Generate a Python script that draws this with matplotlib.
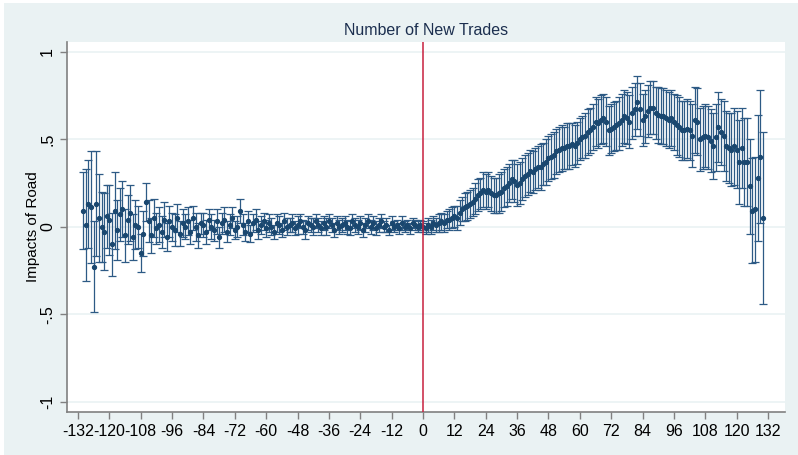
import matplotlib.pyplot as plt
import numpy as np
from matplotlib.patches import Rectangle

# months relative to road opening
months = np.arange(-130, 131)

# point estimates (10 per row, from -130)
coef = [
    0.09, 0.01, 0.13, 0.11, -0.23, 0.13, 0.05, 0.00, -0.03, 0.06,
    0.04, -0.10, 0.09, -0.02, 0.07, 0.10, -0.05, 0.04, 0.08, -0.06,
    0.01, 0.00, -0.15, -0.04, 0.14, 0.03, -0.05, 0.05, -0.01, 0.01,
    -0.03, 0.04, -0.06, 0.03, 0.00, -0.02, 0.05, -0.04, 0.02, 0.00,
    0.03, -0.03, 0.05, 0.00, -0.05, 0.02, 0.01, -0.03, 0.04, 0.00,
    -0.02, 0.03, -0.06, 0.02, 0.04, -0.03, 0.01, 0.05, -0.02, 0.00,
    0.09, 0.01, -0.03, 0.03, -0.04, 0.02, 0.04, -0.02, 0.01, 0.03,
    -0.01, 0.02, 0.00, -0.03, 0.02, 0.01, -0.02, 0.03, 0.00, 0.01,
    0.02, -0.01, 0.01, 0.03, 0.00, -0.02, 0.02, 0.01, 0.00, 0.03,
    0.01, -0.01, 0.02, 0.00, 0.03, 0.01, -0.02, 0.02, 0.00, 0.01,
    0.02, 0.00, -0.01, 0.03, 0.01, 0.00, 0.02, -0.02, 0.01, 0.03,
    0.00, 0.02, -0.01, 0.01, 0.03, 0.00, 0.01, -0.02, 0.02, 0.00,
    0.01, -0.01, 0.02, 0.00, 0.01, -0.01, 0.02, 0.01, 0.00, 0.01,
    0.00, -0.01, 0.01, 0.00, 0.02, 0.01, 0.02, 0.03, 0.02, 0.04,
    0.04, 0.05, 0.06, 0.05, 0.08, 0.10, 0.11, 0.12, 0.13, 0.14,
    0.16, 0.18, 0.19, 0.21, 0.20, 0.21, 0.19, 0.18, 0.18, 0.19,
    0.20, 0.22, 0.23, 0.25, 0.27, 0.26, 0.24, 0.25, 0.27, 0.29,
    0.30, 0.32, 0.31, 0.33, 0.34, 0.34, 0.36, 0.37, 0.39, 0.40,
    0.41, 0.43, 0.44, 0.45, 0.45, 0.46, 0.46, 0.47, 0.46, 0.48,
    0.50, 0.51, 0.52, 0.54, 0.55, 0.57, 0.60, 0.59, 0.61, 0.62,
    0.60, 0.55, 0.56, 0.57, 0.58, 0.59, 0.61, 0.63, 0.62, 0.60,
    0.65, 0.67, 0.71, 0.67, 0.61, 0.63, 0.66, 0.68, 0.68, 0.65,
    0.64, 0.63, 0.63, 0.62, 0.61, 0.62, 0.60, 0.58, 0.57, 0.55,
    0.55, 0.56, 0.55, 0.52, 0.61, 0.60, 0.50, 0.51, 0.52, 0.51,
    0.49, 0.46, 0.51, 0.57, 0.54, 0.52, 0.46, 0.45, 0.44, 0.46,
    0.44, 0.37, 0.45, 0.37, 0.37, 0.23, 0.09, 0.10, 0.28, 0.40,
    0.05,
]

# half width of the 95% interval
half = [
    0.22, 0.32, 0.25, 0.32, 0.26, 0.30, 0.25, 0.20, 0.22, 0.18,
    0.20, 0.18, 0.22, 0.17, 0.15, 0.16, 0.15, 0.14, 0.16, 0.13,
    0.14, 0.12, 0.11, 0.13, 0.11, 0.12, 0.10, 0.11, 0.09, 0.10,
    0.09, 0.10, 0.08, 0.09, 0.08, 0.09, 0.08, 0.07, 0.08, 0.07,
    0.08, 0.07, 0.07, 0.08, 0.07, 0.06, 0.07, 0.07, 0.06, 0.07,
    0.06, 0.07, 0.06, 0.06, 0.07, 0.06, 0.06, 0.06, 0.05, 0.06,
    0.07, 0.06, 0.05, 0.06, 0.05, 0.05, 0.06, 0.05, 0.05, 0.05,
    0.05, 0.05, 0.05, 0.04, 0.05, 0.05, 0.04, 0.05, 0.05, 0.04,
    0.05, 0.04, 0.05, 0.04, 0.04, 0.05, 0.04, 0.04, 0.05, 0.04,
    0.04, 0.04, 0.04, 0.05, 0.04, 0.04, 0.04, 0.04, 0.04, 0.04,
    0.04, 0.04, 0.04, 0.04, 0.04, 0.04, 0.04, 0.04, 0.04, 0.04,
    0.04, 0.04, 0.04, 0.04, 0.04, 0.03, 0.04, 0.03, 0.04, 0.03,
    0.03, 0.03, 0.04, 0.03, 0.03, 0.03, 0.03, 0.03, 0.03, 0.03,
    0.03, 0.03, 0.04, 0.04, 0.04, 0.04, 0.05, 0.05, 0.05, 0.05,
    0.06, 0.06, 0.06, 0.07, 0.07, 0.07, 0.08, 0.08, 0.08, 0.08,
    0.09, 0.09, 0.09, 0.10, 0.10, 0.10, 0.10, 0.10, 0.10, 0.11,
    0.11, 0.11, 0.11, 0.11, 0.11, 0.12, 0.12, 0.12, 0.12, 0.12,
    0.12, 0.12, 0.12, 0.12, 0.12, 0.13, 0.12, 0.13, 0.13, 0.13,
    0.13, 0.13, 0.13, 0.13, 0.12, 0.13, 0.13, 0.12, 0.12, 0.12,
    0.12, 0.12, 0.13, 0.13, 0.13, 0.13, 0.14, 0.14, 0.14, 0.14,
    0.14, 0.14, 0.14, 0.14, 0.14, 0.15, 0.15, 0.15, 0.15, 0.15,
    0.15, 0.15, 0.15, 0.15, 0.15, 0.15, 0.15, 0.15, 0.15, 0.15,
    0.16, 0.16, 0.16, 0.16, 0.16, 0.16, 0.16, 0.17, 0.17, 0.17,
    0.17, 0.17, 0.17, 0.18, 0.19, 0.19, 0.18, 0.18, 0.18, 0.18,
    0.18, 0.19, 0.19, 0.20, 0.19, 0.20, 0.20, 0.20, 0.21, 0.22,
    0.22, 0.24, 0.23, 0.25, 0.25, 0.27, 0.30, 0.30, 0.36, 0.38,
    0.49,
]

xticks = np.arange(-132, 133, 12)
yticks = [-1, -0.5, 0, 0.5, 1]
ytick_labels = ['-1', '-.5', '0', '.5', '1']

plt.rcParams['font.family'] = ['Liberation Sans Narrow', 'Liberation Sans', 'DejaVu Sans']

bg = '#eaf2f3'
navy = '#1a476f'

fig = plt.figure(figsize=(7.98, 4.55), dpi=100, facecolor='white')
fig.patches.append(Rectangle((4 / 798, 0), 1, 1 - 3 / 455, transform=fig.transFigure,
                             facecolor=bg, edgecolor='none', zorder=-5))
ax = fig.add_axes([67 / 798, 1 - 412 / 455, (785 - 67) / 798, (412 - 42) / 455])
ax.set_facecolor('white')

ax.errorbar(months, coef, yerr=half, fmt='o', markersize=2.8, color='#2d5a85',
            markerfacecolor=navy, markeredgecolor=navy, elinewidth=0.9,
            capsize=2.6, capthick=0.9, zorder=3)
ax.axvline(0, color='#c8203f', lw=1.1, zorder=4)

ax.set_xlim(-136.2, 138.5)
ax.set_ylim(-1.059, 1.055)
ax.set_xticks(xticks)
ax.set_xticklabels([str(t) for t in xticks], fontsize=11.5)
ax.set_yticks(yticks)
ax.set_yticklabels(ytick_labels, fontsize=11.5, rotation=90, va='center')

ax.yaxis.grid(True, color=bg, lw=1.2)
ax.set_axisbelow(True)
for side in ['top', 'right']:
    ax.spines[side].set_visible(False)
for side in ['left', 'bottom']:
    ax.spines[side].set_color('#808080')
    ax.spines[side].set_linewidth(1.2)
ax.tick_params(colors='#808080', labelcolor='black', length=5, width=1)

ax.set_title('Number of New Trades', fontsize=11.5, color='#1c2f4f', pad=5,
             family=['Liberation Sans', 'DejaVu Sans'])
ax.set_ylabel('Impacts of Road', fontsize=11, labelpad=0,
              family=['Liberation Sans', 'DejaVu Sans'])

fig.savefig('out.png', dpi=100, facecolor=fig.get_facecolor())
